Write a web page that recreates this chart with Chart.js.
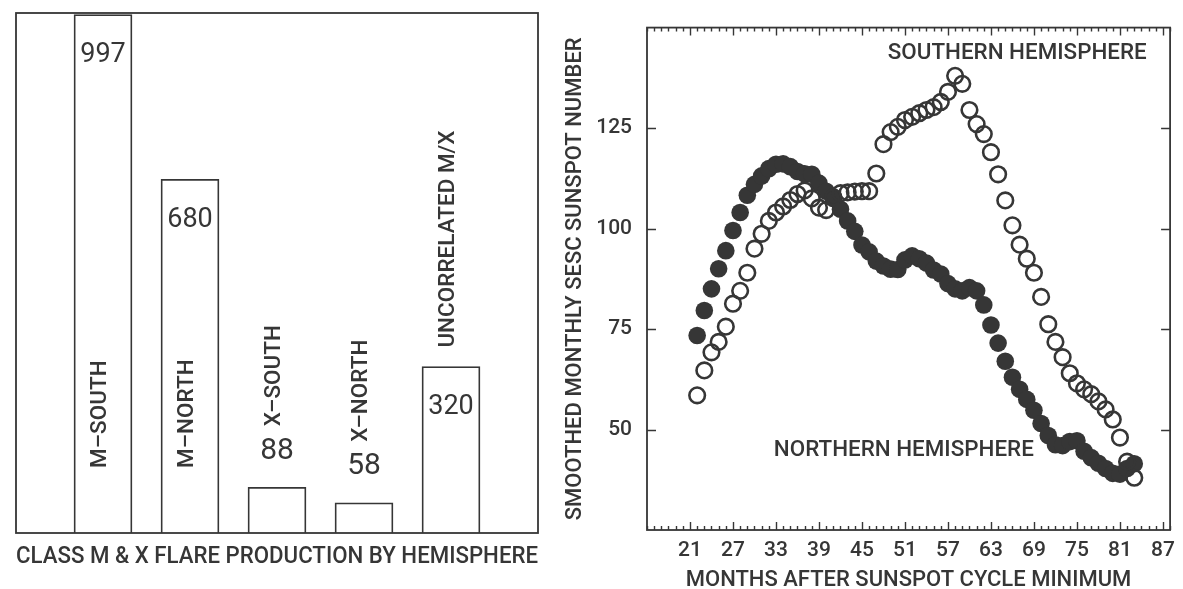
<!DOCTYPE html>
<html>
<head>
<meta charset="utf-8">
<title>Flare production and smoothed sunspot number by hemisphere</title>
<script src="https://cdn.jsdelivr.net/npm/chart.js@4/dist/chart.umd.min.js"></script>
<style>
  html, body { margin: 0; padding: 0; background: #fff; }
  .panel { position: absolute; top: 0; height: 589px; }
  #leftPanel { left: 0; width: 560px; }
  #rightPanel { left: 560px; width: 623px; }
</style>
</head>
<body>
<div class="panel" id="leftPanel"><canvas id="flareChart"></canvas></div>
<div class="panel" id="rightPanel"><canvas id="sunspotChart"></canvas></div>

<script>
// ── Data ──
const flareCategories = ['M–SOUTH', 'M–NORTH', 'X–SOUTH', 'X–NORTH', 'UNCORRELATED M/X'];
const flareCounts = [997, 680, 88, 58, 320];

const months = [22, 23, 24, 25, 26, 27, 28, 29, 30, 31,
  32, 33, 34, 35, 36, 37, 38, 39, 40, 41,
  42, 43, 44, 45, 46, 47, 48, 49, 50, 51,
  52, 53, 54, 55, 56, 57, 58, 59, 60, 61,
  62, 63, 64, 65, 66, 67, 68, 69, 70, 71,
  72, 73, 74, 75, 76, 77, 78, 79, 80, 81,
  82, 83];
const northern = [73.4, 79.6, 85, 90, 94.5, 99.5, 104, 108.3, 111, 113.1,
  114.9, 116, 116.1, 115.4, 114.2, 113.6, 113.5, 111.3, 109.3, 107.5,
  104.8, 101.9, 99.3, 95.9, 94.2, 91.9, 90.7, 89.9, 89.8, 92.2,
  93.2, 92.5, 91.4, 89.7, 88.7, 86.3, 85, 84.5, 85.3, 84.5,
  81, 76, 71.5, 67, 63, 60, 57.5, 54.8, 51.5, 48.5,
  46.2, 46, 47, 47.2, 44.6, 43, 41.6, 40.3, 39.1, 38.9,
  40.3, 41.5];
const southern = [58.5, 64.7, 69.2, 71.8, 75.6, 81.3, 84.5, 89, 95, 98.7,
  101.9, 104, 105.5, 107.1, 108.6, 109.5, 107.5, 105.2, 104.6, 107.8,
  108.8, 109, 109.2, 109.3, 109.3, 113.7, 121, 124, 125.3, 127,
  127.8, 128.7, 129.5, 130.2, 131.5, 134, 138, 136, 129.5, 126,
  123.5, 119, 113.5, 107, 100.8, 96, 92.5, 89, 83, 76.2,
  71.8, 68, 64, 61.5, 60, 58.8, 57, 55, 52.5, 48,
  42, 38];

const monthTicks = [21, 27, 33, 39, 45, 51, 57, 63, 69, 75, 81, 87];
const levelTicks = [50, 75, 100, 125];

// ── Style ──
const INK = '#363636';
const FONT = "Roboto, 'Liberation Sans', Arial, sans-serif";
Chart.defaults.font.family = FONT;
Chart.defaults.font.weight = 500;
Chart.defaults.color = INK;

// ── Left: bar chart with labels drawn on the bars ──
const flareLabelsPlugin = {
  id: 'flareLabels',
  afterDatasetsDraw(chart) {
    const { ctx, chartArea } = chart;
    const meta = chart.getDatasetMeta(0);
    ctx.save();
    ctx.fillStyle = INK;
    ctx.strokeStyle = INK;
    ctx.lineWidth = 1.8;
    ctx.strokeRect(chartArea.left, chartArea.top, chartArea.right - chartArea.left, chartArea.bottom - chartArea.top);

    meta.data.forEach((bar, i) => {
      const value = chart.data.datasets[0].data[i];
      if (value == null) return;
      const name = chart.data.labels[i];
      const h = bar.base - bar.y;
      const valueInside = h > 100;

      // value
      ctx.textAlign = 'center';
      ctx.textBaseline = 'middle';
      if (valueInside) {
        ctx.font = '27px ' + FONT;
        ctx.fillText(String(value), bar.x, bar.y + 41);
      } else {
        ctx.font = '30px ' + FONT;
        ctx.fillText(String(value), bar.x, bar.y - 36);
      }

      // rotated category name
      let nameBottom;
      if (h > 200) nameBottom = chartArea.bottom - 65;
      else if (valueInside) nameBottom = bar.y - 19;
      else nameBottom = bar.y - 61;
      ctx.save();
      ctx.translate(bar.x - 4, nameBottom);
      ctx.rotate(-Math.PI / 2);
      ctx.font = '500 22.5px ' + FONT;
      ctx.textAlign = 'left';
      ctx.textBaseline = 'middle';
      ctx.fillText(name, 0, 1);
      ctx.restore();
    });
    ctx.restore();
  }
};

new Chart(document.getElementById('flareChart'), {
  type: 'bar',
  data: {
    labels: ['', ...flareCategories, ''],
    datasets: [{
      data: [null, ...flareCounts, null],
      backgroundColor: '#ffffff',
      borderColor: INK,
      borderWidth: 1.8,
      barThickness: 58
    }]
  },
  options: {
    responsive: true,
    maintainAspectRatio: false,
    animation: false,
    layout: { padding: { left: 16, top: 13, right: 22, bottom: 0 } },
    plugins: { legend: { display: false }, tooltip: { enabled: false } },
    scales: {
      x: {
        offset: false,
        grid: { display: false, drawTicks: false },
        border: { display: false },
        ticks: { display: false },
        title: {
          display: true,
          text: 'CLASS M & X FLARE PRODUCTION BY HEMISPHERE',
          color: INK,
          font: { size: 24, weight: 500 },
          padding: { top: 0, bottom: 17.5 }
        },
        afterFit: s => { s.height = 56; }
      },
      y: { display: false, min: 0, max: 1000 }
    }
  },
  plugins: [flareLabelsPlugin]
});

// ── Right: scatter of smoothed sunspot number ──
const frameTicksPlugin = {
  id: 'frameTicks',
  afterDraw(chart) {
    const { ctx, chartArea } = chart;
    const xs = chart.scales.x;
    const ys = chart.scales.y;
    ctx.save();
    ctx.strokeStyle = INK;
    ctx.lineWidth = 1.8;
    ctx.strokeRect(chartArea.left, chartArea.top, chartArea.right - chartArea.left, chartArea.bottom - chartArea.top);

    ctx.lineWidth = 1.4;
    ctx.beginPath();
    for (let v = Math.ceil(xs.min); v <= xs.max; v++) {
      const px = Math.round(xs.getPixelForValue(v)) + 0.5;
      const len = monthTicks.includes(v) ? 8 : 4;
      ctx.moveTo(px, chartArea.bottom);
      ctx.lineTo(px, chartArea.bottom - len);
      ctx.moveTo(px, chartArea.top);
      ctx.lineTo(px, chartArea.top + len);
    }
    levelTicks.forEach(v => {
      const py = Math.round(ys.getPixelForValue(v)) + 0.5;
      ctx.moveTo(chartArea.left, py);
      ctx.lineTo(chartArea.left + 9, py);
      ctx.moveTo(chartArea.right, py);
      ctx.lineTo(chartArea.right - 9, py);
    });
    ctx.stroke();

    // hemisphere captions
    ctx.fillStyle = INK;
    ctx.font = '500 22.4px ' + FONT;
    ctx.textAlign = 'left';
    ctx.textBaseline = 'middle';
    ctx.fillText('SOUTHERN HEMISPHERE', xs.getPixelForValue(48.6), ys.getPixelForValue(143.6));
    ctx.fillText('NORTHERN HEMISPHERE', xs.getPixelForValue(32.7), ys.getPixelForValue(44.8));
    ctx.restore();
  }
};

new Chart(document.getElementById('sunspotChart'), {
  type: 'scatter',
  data: {
    datasets: [
      {
        label: 'SOUTHERN HEMISPHERE',
        data: months.map((m, i) => ({ x: m, y: southern[i] })),
        pointRadius: 7.8,
        pointBorderWidth: 2.6,
        pointBackgroundColor: 'rgba(255,255,255,0)',
        pointBorderColor: INK
      },
      {
        label: 'NORTHERN HEMISPHERE',
        data: months.map((m, i) => ({ x: m, y: northern[i] })),
        pointRadius: 8.8,
        pointBorderWidth: 0,
        pointBackgroundColor: INK,
        pointBorderColor: INK
      }
    ]
  },
  options: {
    responsive: true,
    maintainAspectRatio: false,
    animation: false,
    layout: { padding: { left: 0, top: 13, right: 8, bottom: 0 } },
    plugins: { legend: { display: false }, tooltip: { enabled: false } },
    scales: {
      x: {
        type: 'linear',
        min: 15,
        max: 88,
        afterBuildTicks: s => { s.ticks = monthTicks.map(v => ({ value: v })); },
        grid: { display: false, drawTicks: false },
        border: { display: false },
        ticks: { autoSkip: false, maxRotation: 0, padding: 8, color: INK, font: { size: 21, weight: 500 } },
        title: {
          display: true,
          text: 'MONTHS AFTER SUNSPOT CYCLE MINIMUM',
          color: INK,
          font: { size: 22, lineHeight: 1, weight: 500 },
          padding: { top: 0, bottom: -2 }
        },
        afterFit: s => { s.height = 59; }
      },
      y: {
        min: 25,
        max: 150,
        afterBuildTicks: s => { s.ticks = levelTicks.map(v => ({ value: v })); },
        grid: { display: false, drawTicks: false },
        border: { display: false },
        ticks: { padding: 15, color: INK, font: { size: 21, weight: 500 } },
        title: {
          display: true,
          text: 'SMOOTHED MONTHLY SESC SUNSPOT NUMBER',
          color: INK,
          font: { size: 22, weight: 500 },
          padding: { top: 2, bottom: 0 }
        },
        afterFit: s => { s.width = 87; }
      }
    }
  },
  plugins: [frameTicksPlugin]
});
</script>
</body>
</html>
